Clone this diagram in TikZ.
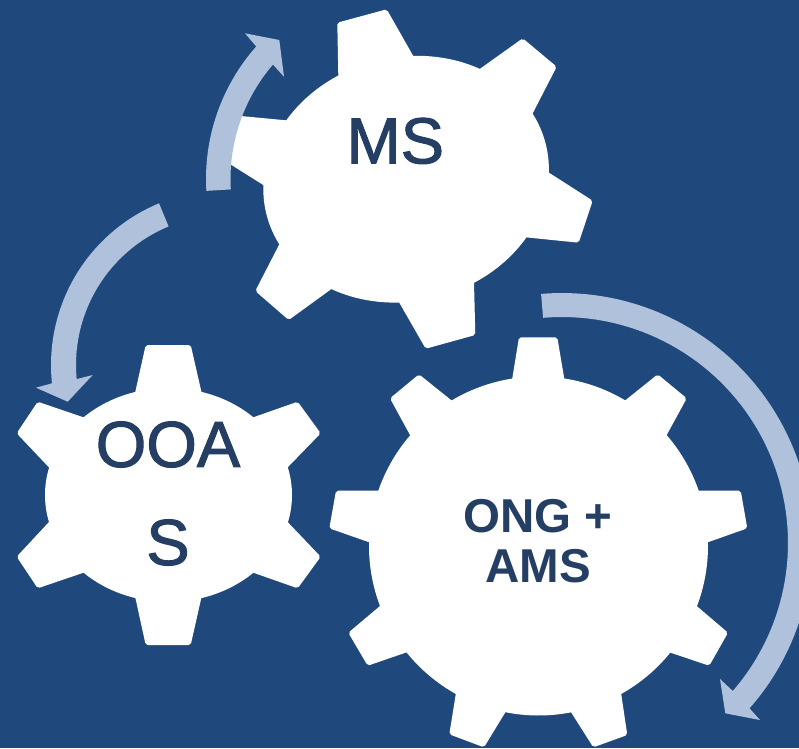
\documentclass[tikz,border=0pt]{standalone}
\usepackage{fontspec}
\setmainfont{Liberation Sans}
\newfontfamily\heavysans[FakeBold=1.6]{Liberation Sans}
\usetikzlibrary{calc}
\definecolor{bgblue}{HTML}{1F497D}
\definecolor{arrowblue}{HTML}{B0C1DC}
\definecolor{labelblue}{HTML}{243F63}
\tikzset{
  gearpart/.style={fill=white,draw=none,rounded corners=2pt},
  gearbody/.style={fill=white,draw=none},
  flowarrow/.style={fill=arrowblue,draw=none},
  biglabel/.style={text=labelblue,font=\heavysans\fontsize{65}{98}\selectfont,inner sep=0pt,align=center},
  boldlabel/.style={text=labelblue,font=\fontsize{47.5}{50}\selectfont\bfseries,inner sep=0pt,align=center}
}
% centre x, centre y, semi-axis a, semi-axis b, rotation
\newcommand{\gearbody}[5]{%
  \fill[gearbody] plot[domain=0:360,samples=180,variable=\t]
    ({#1+#3*cos(\t)*cos(#5)-#4*sin(\t)*sin(#5)},{#2+#3*cos(\t)*sin(#5)+#4*sin(\t)*cos(#5)}) -- cycle;}
% base, tip, tip, base
\newcommand{\geartooth}[4]{%
  \fill[gearpart] ($(#2)!1.4!(#1)$) -- (#2) -- (#3) -- ($(#3)!1.4!(#4)$) -- cycle;}
% cx, cy, Router, Rinner, start angle, end outer, end inner, head points
\newcommand{\blockarrow}[8]{%
  \fill[flowarrow] plot[domain=#5:#6,samples=70,variable=\t] ({#1+#3*cos(\t)},{#2+#3*sin(\t)})
    -- #8 -- plot[domain=#7:#5,samples=70,variable=\t] ({#1+#4*cos(\t)},{#2+#4*sin(\t)}) -- cycle;}
\begin{document}
\begin{tikzpicture}[x=1pt,y=-1pt]
\useasboundingbox (0,0) rectangle (799,748);
\clip (0,0) rectangle (799,748);
\fill[bgblue] (0,0) rectangle (799,748);

% MS gear
\gearbody{406.1}{179.2}{144}{122}{-14}
\geartooth{338.3,75.7}{337.3,22.7}{386.7,9.3}{412.7,55}
\geartooth{480.7,68.3}{522.7,38.3}{556.7,66.7}{532.7,113.3}
\geartooth{549,172.7}{592.7,200.7}{578.7,242.7}{525.7,237.3}
\geartooth{474,282.7}{475.3,335}{425.7,348.7}{399.3,302.7}
\geartooth{331,289.3}{288.7,320}{255.3,291}{279.3,244.3}
\geartooth{263.3,185}{219.3,157.3}{233.3,115.3}{286,120.3}

% OOAS gear
\gearbody{168.5}{495}{123.5}{107}{0}
\geartooth{135.7,390}{145.7,345}{190.7,345}{201,390}
\geartooth{255,416.7}{297.7,401.7}{320.7,433.3}{288.3,466.7}
\geartooth{288.3,522.7}{320.7,556.7}{297.7,588.3}{255,573.3}
\geartooth{201,599.3}{190.7,645}{145.7,645}{135.7,599.3}
\geartooth{81.7,573.3}{37.7,588.3}{16.7,556.7}{48.3,522.7}
\geartooth{48.3,466.7}{16.7,433.3}{37.7,401.7}{81.7,416.7}

% ONG + AMS gear
\gearbody{538.5}{546}{169.5}{169.5}{0}
\geartooth{512.3,378.3}{519,337.3}{557.3,337.3}{564.3,379}
\geartooth{625.7,400}{657.7,374.3}{686.7,398.3}{666.7,435}
\geartooth{697.7,490.7}{740.7,490.7}{747.3,528.3}{707.7,542.3}
\geartooth{696.7,606}{728,632.7}{709.3,665.7}{669.3,652.3}
\geartooth{621,692.7}{627.3,735}{593.3,747.3}{570.7,711.7}
\geartooth{505.7,711.7}{484,747.3}{449.3,734.3}{456,692.7}
\geartooth{406.7,652.3}{367.7,665.7}{348.3,632.7}{380,606}
\geartooth{369.3,542.3}{329.3,528.3}{336,490.7}{379,490.7}
\geartooth{410,435}{390,398.3}{419,374.3}{451,400}

% Arrows
\blockarrow{406}{179}{200}{175.5}{176.6}{221.5}{220.7}{(245,33.3) -- (279.3,40) -- (284,76.7)}
\blockarrow{226}{365}{175}{150}{247.5}{174}{174.6}{(36,387.7) -- (67.7,401.7) -- (92.7,375)}
\blockarrow{562}{543}{250}{226}{-94.8}{41.4}{40.9}{(760,720) -- (725.3,713.3) -- (720,679)}

% Labels
\node[biglabel,anchor=base] (ms) at (395.3,163.3) {MS};
\node[biglabel] (ooas) at (168,493.5) {OOA\\S};
\node[boldlabel] (ong) at (538,541.5) {ONG +\\AMS};
\end{tikzpicture}
\end{document}
